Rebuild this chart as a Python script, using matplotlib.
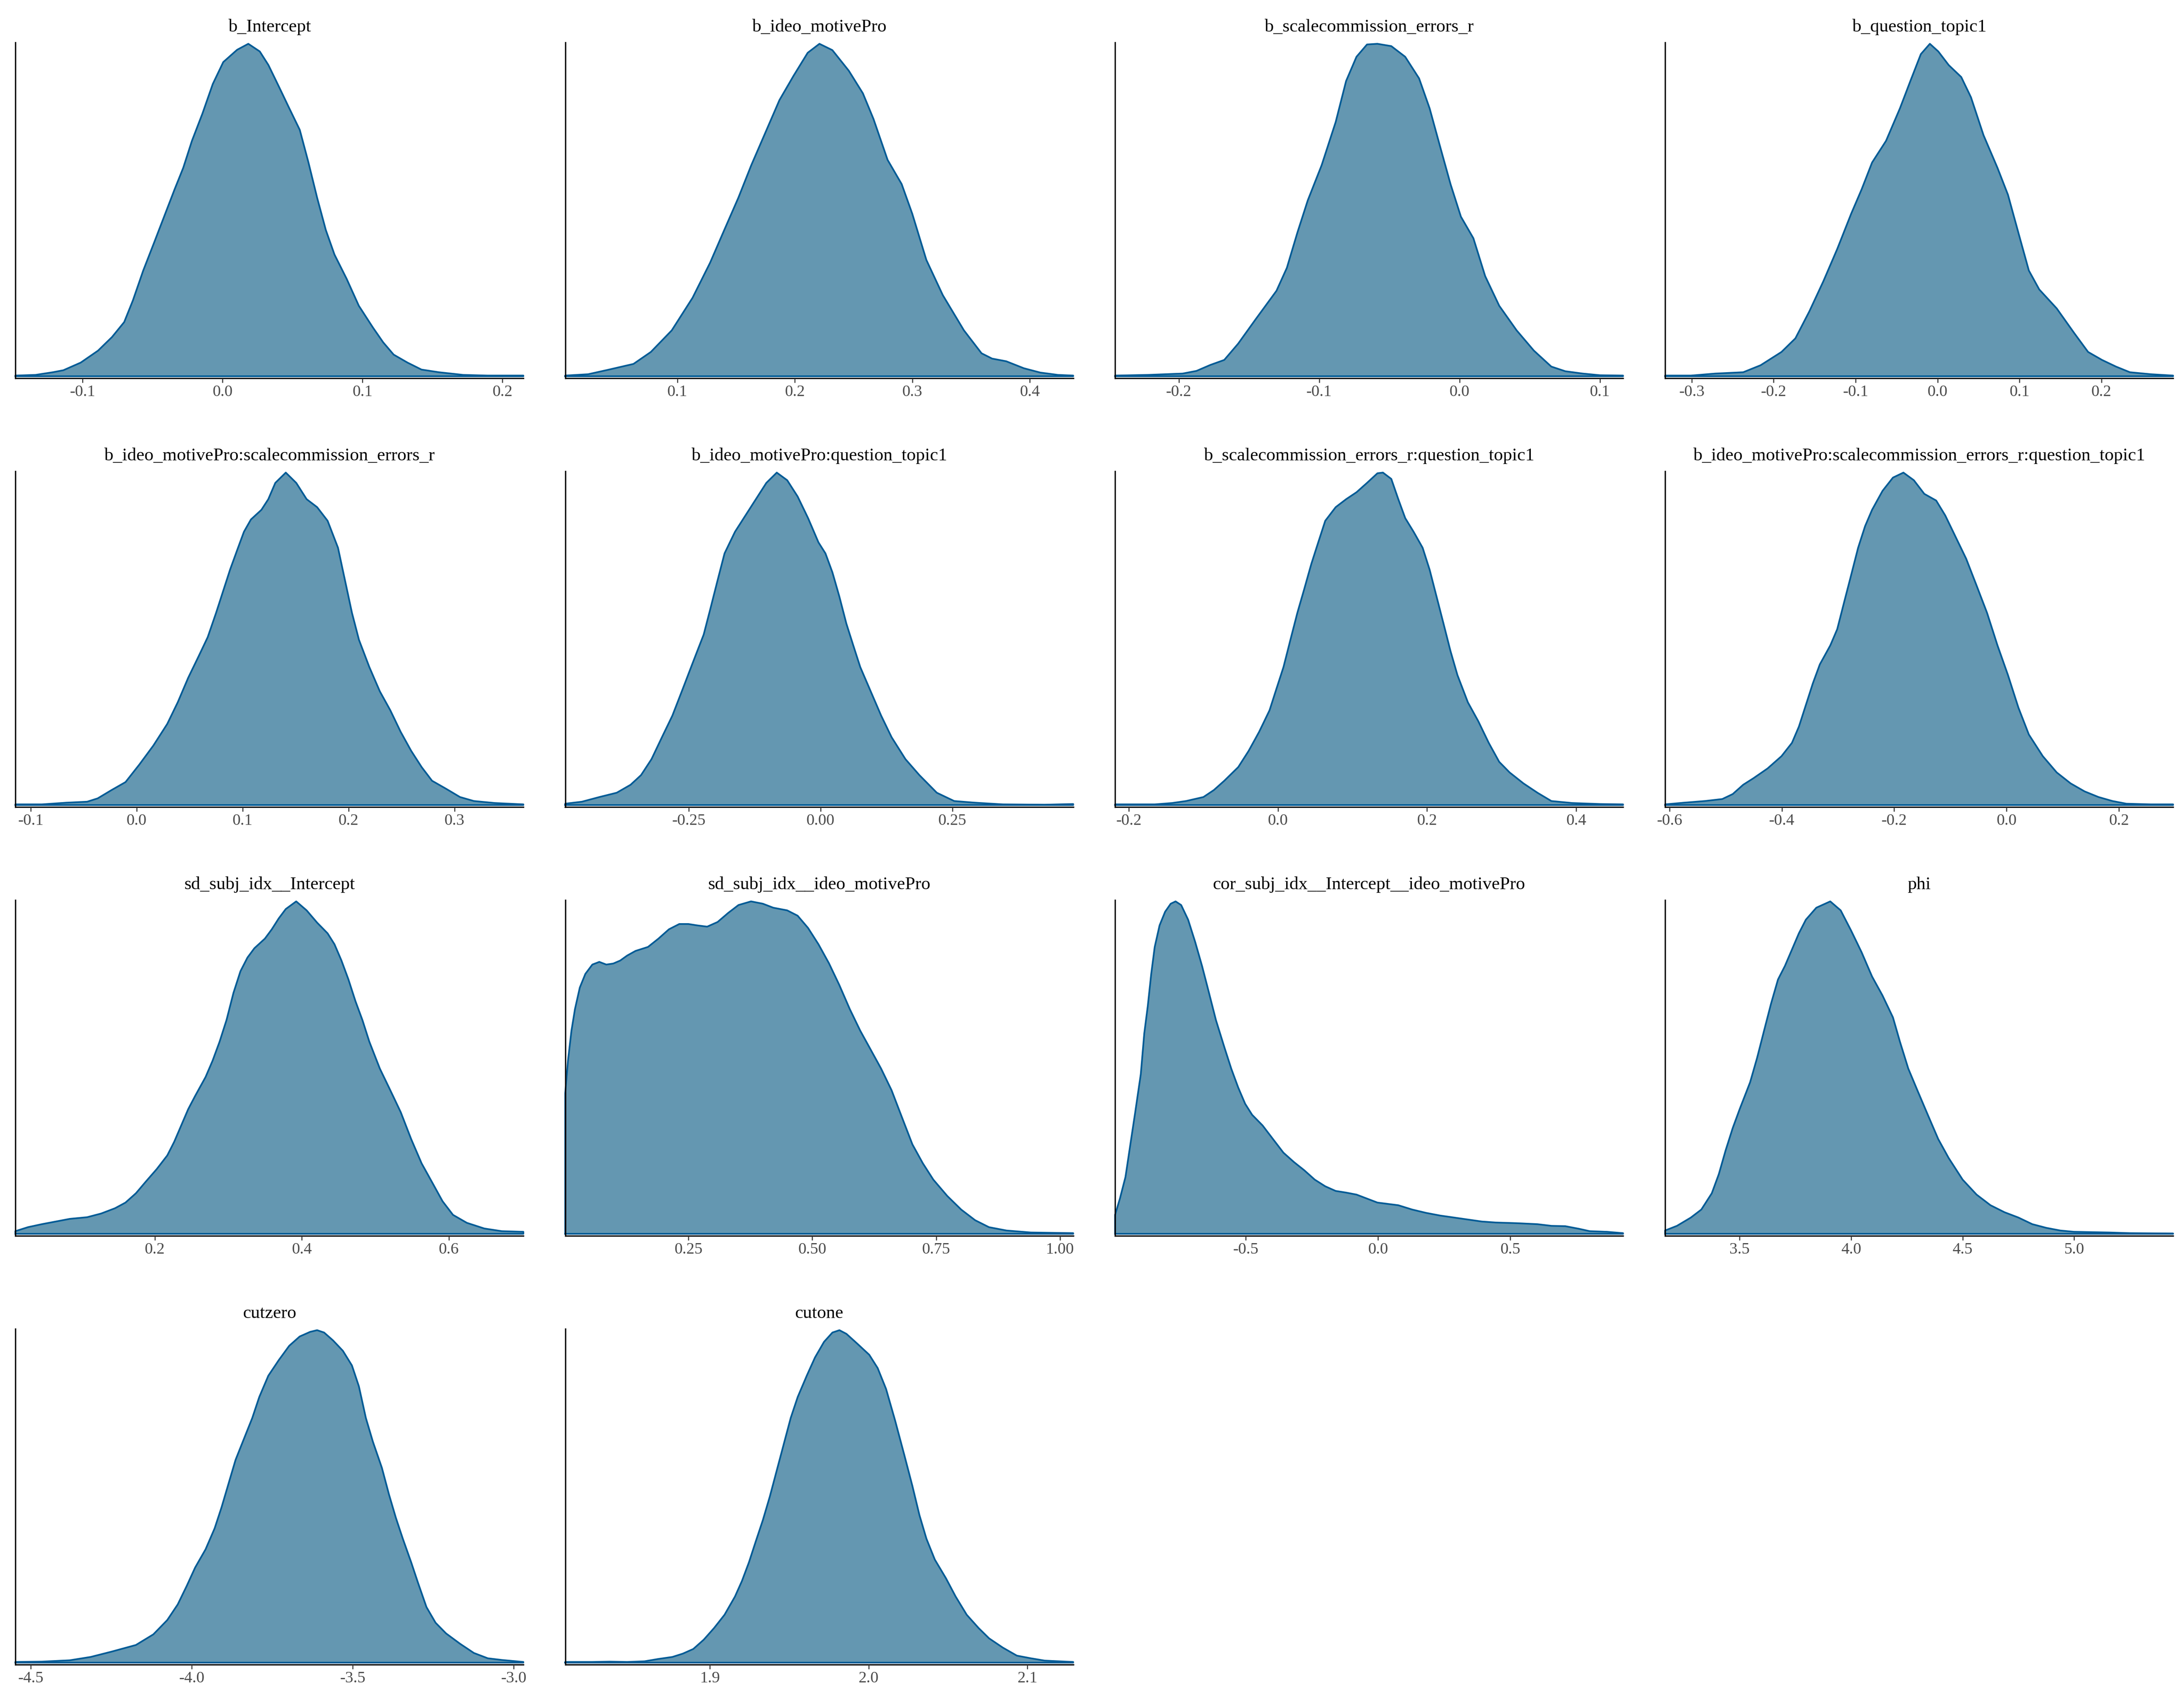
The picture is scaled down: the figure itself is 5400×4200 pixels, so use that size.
import matplotlib
matplotlib.use("Agg")
import matplotlib.pyplot as plt

plt.rcParams['font.family'] = ['Liberation Serif', 'DejaVu Serif']

# ---------------- data (y = relative density) ----------------
titles = ["b_Intercept", "b_ideo_motivePro", "b_scalecommission_errors_r", "b_question_topic1",
          "b_ideo_motivePro:scalecommission_errors_r", "b_ideo_motivePro:question_topic1",
          "b_scalecommission_errors_r:question_topic1",
          "b_ideo_motivePro:scalecommission_errors_r:question_topic1",
          "sd_subj_idx__Intercept", "sd_subj_idx__ideo_motivePro",
          "cor_subj_idx__Intercept__ideo_motivePro", "phi", "cutzero", "cutone"]

p01_x = [-0.1481, -0.1337, -0.1213, -0.1138, -0.1014, -0.0890, -0.0790, -0.0703, -0.0641, -0.0567,
         -0.0492, -0.0418, -0.0343, -0.0281, -0.0219, -0.0144, -0.0070, 0.0005, 0.0104, 0.0184,
         0.0266, 0.0328, 0.0403, 0.0477, 0.0552, 0.0614, 0.0676, 0.0738, 0.0800, 0.0887,
         0.0974, 0.1074, 0.1148, 0.1223, 0.1322, 0.1422, 0.1546, 0.1720, 0.1894, 0.2150]
p01_y = [0.002, 0.004, 0.012, 0.018, 0.041, 0.077, 0.118, 0.163, 0.228, 0.318,
         0.399, 0.480, 0.562, 0.627, 0.708, 0.790, 0.879, 0.945, 0.982, 1.0,
         0.977, 0.936, 0.871, 0.806, 0.741, 0.643, 0.537, 0.440, 0.366, 0.293,
         0.212, 0.147, 0.102, 0.065, 0.041, 0.020, 0.012, 0.004, 0.002, 0.002]

p02_x = [0.0046, 0.0241, 0.0419, 0.0627, 0.0775, 0.0953, 0.113, 0.128, 0.140, 0.152, 0.163,
         0.175, 0.187, 0.199, 0.211, 0.221, 0.232, 0.246, 0.258, 0.267, 0.279, 0.291, 0.300,
         0.312, 0.326, 0.344, 0.359, 0.368, 0.380, 0.395, 0.409, 0.424, 0.437]
p02_y = [0.002, 0.006, 0.020, 0.037, 0.073, 0.138, 0.236, 0.342, 0.440, 0.537, 0.635,
         0.733, 0.831, 0.904, 0.973, 1.0, 0.981, 0.919, 0.851, 0.774, 0.651, 0.578, 0.489,
         0.350, 0.244, 0.138, 0.069, 0.053, 0.045, 0.024, 0.011, 0.004, 0.002]

p03_x = [-0.2454, -0.2221, -0.1973, -0.1874, -0.1775, -0.1676, -0.1577, -0.1453, -0.1304, -0.1230,
         -0.1155, -0.1081, -0.0982, -0.0882, -0.0808, -0.0734, -0.0659, -0.0585, -0.0486, -0.0387,
         -0.0288, -0.0213, -0.0139, -0.0064, 0.0010, 0.0099, 0.0183, 0.0283, 0.0407, 0.0530,
         0.0654, 0.0754, 0.0878, 0.1001, 0.1165]
p03_y = [0.002, 0.004, 0.008, 0.016, 0.034, 0.049, 0.098, 0.171, 0.257, 0.326,
         0.432, 0.529, 0.635, 0.765, 0.888, 0.961, 0.998, 1.0, 0.993, 0.961,
         0.896, 0.806, 0.692, 0.578, 0.480, 0.415, 0.301, 0.212, 0.138, 0.077,
         0.029, 0.015, 0.008, 0.003, 0.002]

p04_x = [-0.3325, -0.3010, -0.2713, -0.2372, -0.2160, -0.1905, -0.1735, -0.1565, -0.1395, -0.1224,
         -0.1054, -0.0927, -0.0799, -0.0629, -0.0459, -0.0332, -0.0204, -0.0094, 0.0009, 0.0136,
         0.0289, 0.0408, 0.0561, 0.0731, 0.0859, 0.0986, 0.1114, 0.1241, 0.1454, 0.1667,
         0.1837, 0.2007, 0.2177, 0.2347, 0.2602, 0.2874]
p04_y = [0.002, 0.002, 0.008, 0.012, 0.033, 0.073, 0.114, 0.195, 0.285, 0.383,
         0.489, 0.562, 0.643, 0.708, 0.806, 0.888, 0.969, 1.0, 0.977, 0.936,
         0.900, 0.839, 0.725, 0.627, 0.546, 0.432, 0.318, 0.261, 0.204, 0.130,
         0.073, 0.049, 0.029, 0.012, 0.006, 0.002]

p05_x = [-0.1145, -0.0895, -0.0664, -0.0467, -0.0368, -0.0237, -0.0105, 0.0026, 0.0158, 0.0289,
         0.0388, 0.0487, 0.0586, 0.0671, 0.0750, 0.0816, 0.0882, 0.0947, 0.1013, 0.1079,
         0.1178, 0.1243, 0.1309, 0.1408, 0.1507, 0.1605, 0.1704, 0.1803, 0.1901, 0.1967,
         0.2033, 0.2099, 0.2197, 0.2296, 0.2395, 0.2493, 0.2592, 0.2691, 0.2789, 0.2921,
         0.3053, 0.3184, 0.3382, 0.3651]
p05_y = [0.002, 0.002, 0.007, 0.010, 0.020, 0.045, 0.069, 0.122, 0.179, 0.244,
         0.309, 0.383, 0.448, 0.505, 0.578, 0.643, 0.708, 0.765, 0.822, 0.859,
         0.888, 0.920, 0.969, 1.0, 0.969, 0.920, 0.896, 0.855, 0.774, 0.676,
         0.578, 0.497, 0.415, 0.342, 0.285, 0.220, 0.163, 0.114, 0.073, 0.049,
         0.024, 0.012, 0.006, 0.002]

p06_x = [-0.4842, -0.4525, -0.4195, -0.3865, -0.3602, -0.3404, -0.3206, -0.3008, -0.2810, -0.2612,
         -0.2414, -0.2216, -0.2084, -0.1953, -0.1821, -0.1623, -0.1425, -0.1227, -0.1029, -0.0831,
         -0.0633, -0.0435, -0.0237, -0.0040, 0.0092, 0.0224, 0.0356, 0.0488, 0.0620, 0.0752,
         0.0950, 0.1148, 0.1346, 0.1609, 0.1873, 0.2203, 0.2533, 0.2929, 0.3456, 0.4248, 0.4789]
p06_y = [0.004, 0.010, 0.024, 0.037, 0.061, 0.090, 0.138, 0.204, 0.269, 0.350,
         0.432, 0.513, 0.594, 0.676, 0.757, 0.822, 0.871, 0.920, 0.969, 1.0,
         0.977, 0.928, 0.863, 0.790, 0.757, 0.700, 0.627, 0.546, 0.480, 0.415,
         0.342, 0.269, 0.204, 0.138, 0.090, 0.037, 0.012, 0.007, 0.002, 0.001, 0.003]

p07_x = [-0.2184, -0.1652, -0.1419, -0.1232, -0.0999, -0.0859, -0.0719, -0.0532, -0.0392, -0.0252,
         -0.0112, -0.0019, 0.0075, 0.0168, 0.0261, 0.0355, 0.0448, 0.0541, 0.0635, 0.0775,
         0.0915, 0.1055, 0.1195, 0.1335, 0.1409, 0.1521, 0.1615, 0.1708, 0.1820, 0.1941,
         0.2035, 0.2128, 0.2221, 0.2314, 0.2408, 0.2548, 0.2688, 0.2828, 0.2968, 0.3108,
         0.3294, 0.3481, 0.3668, 0.3948, 0.4321, 0.4629]
p07_y = [0.002, 0.002, 0.006, 0.012, 0.024, 0.045, 0.073, 0.114, 0.163, 0.220,
         0.285, 0.350, 0.415, 0.497, 0.578, 0.651, 0.725, 0.790, 0.855, 0.896,
         0.920, 0.941, 0.969, 0.998, 1.0, 0.981, 0.920, 0.863, 0.822, 0.774,
         0.708, 0.627, 0.546, 0.464, 0.391, 0.309, 0.252, 0.187, 0.130, 0.098,
         0.065, 0.037, 0.012, 0.006, 0.003, 0.002]

p08_x = [-0.6078, -0.5743, -0.5371, -0.5060, -0.4874, -0.4688, -0.4502, -0.4254, -0.4006, -0.3820,
         -0.3696, -0.3572, -0.3448, -0.3324, -0.3138, -0.3014, -0.2890, -0.2766, -0.2642, -0.2518,
         -0.2394, -0.2208, -0.2022, -0.1836, -0.1650, -0.1464, -0.1253, -0.1091, -0.0905, -0.0719,
         -0.0533, -0.0347, -0.0161, 0.0025, 0.0211, 0.0397, 0.0645, 0.0893, 0.1141, 0.1389,
         0.1637, 0.1885, 0.2133, 0.2567, 0.2964]
p08_y = [0.002, 0.007, 0.012, 0.018, 0.033, 0.061, 0.081, 0.110, 0.147, 0.187,
         0.236, 0.301, 0.366, 0.423, 0.480, 0.529, 0.611, 0.692, 0.774, 0.839,
         0.888, 0.945, 0.985, 1.0, 0.977, 0.936, 0.916, 0.871, 0.806, 0.741,
         0.660, 0.578, 0.480, 0.391, 0.293, 0.212, 0.147, 0.098, 0.065, 0.041,
         0.024, 0.012, 0.004, 0.002, 0.002]

p09_x = [0.0104, 0.0275, 0.0464, 0.0654, 0.0844, 0.1081, 0.1270, 0.1460, 0.1602, 0.1744,
         0.1886, 0.2028, 0.2171, 0.2265, 0.2360, 0.2455, 0.2550, 0.2692, 0.2787, 0.2882,
         0.2976, 0.3071, 0.3166, 0.3261, 0.3355, 0.3498, 0.3592, 0.3687, 0.3782, 0.3924,
         0.4066, 0.4209, 0.4351, 0.4445, 0.4540, 0.4635, 0.4730, 0.4825, 0.4919, 0.5062,
         0.5204, 0.5346, 0.5488, 0.5630, 0.5773, 0.5915, 0.6057, 0.6246, 0.6483, 0.6720, 0.7014]
p09_y = [0.008, 0.020, 0.029, 0.037, 0.045, 0.050, 0.061, 0.077, 0.094, 0.122,
         0.159, 0.195, 0.236, 0.277, 0.326, 0.375, 0.415, 0.472, 0.521, 0.578,
         0.643, 0.725, 0.790, 0.831, 0.859, 0.888, 0.916, 0.949, 0.977, 1.0,
         0.973, 0.936, 0.904, 0.871, 0.822, 0.765, 0.700, 0.643, 0.578, 0.497,
         0.432, 0.366, 0.285, 0.212, 0.155, 0.098, 0.057, 0.033, 0.016, 0.008, 0.006]

p10_x = [0.0014, 0.0070, 0.0140, 0.0211, 0.0309, 0.0421, 0.0562, 0.0702, 0.0843, 0.0983,
         0.1124, 0.1264, 0.1433, 0.1685, 0.1896, 0.2107, 0.2317, 0.25, 0.2669, 0.2879,
         0.3090, 0.3301, 0.3511, 0.3764, 0.4003, 0.4213, 0.4494, 0.4705, 0.4916, 0.5126,
         0.5337, 0.5548, 0.5758, 0.5969, 0.6180, 0.6390, 0.6601, 0.6812, 0.7022, 0.7233,
         0.7444, 0.7725, 0.8006, 0.8287, 0.8567, 0.8919, 0.9410, 1.0267]
p10_y = [0.423, 0.521, 0.611, 0.676, 0.741, 0.782, 0.810, 0.818, 0.810, 0.813,
         0.822, 0.837, 0.851, 0.863, 0.888, 0.916, 0.932, 0.932, 0.928, 0.924,
         0.938, 0.965, 0.989, 1.0, 0.993, 0.981, 0.973, 0.957, 0.920, 0.871,
         0.814, 0.748, 0.676, 0.611, 0.554, 0.497, 0.432, 0.350, 0.269, 0.212,
         0.163, 0.114, 0.073, 0.041, 0.020, 0.010, 0.004, 0.002]

p11_x = [-0.9947, -0.9763, -0.9553, -0.9368, -0.9184, -0.8974, -0.8842, -0.8711, -0.8579, -0.8447,
         -0.8263, -0.8053, -0.7842, -0.7658, -0.7447, -0.7184, -0.6921, -0.6658, -0.6395, -0.6132,
         -0.5816, -0.5553, -0.5289, -0.5026, -0.4763, -0.4368, -0.3974, -0.3579, -0.3184, -0.2789,
         -0.2395, -0.2, -0.1605, -0.1211, -0.0816, -0.0421, -0.0026, 0.0368, 0.0763, 0.1289,
         0.1816, 0.2342, 0.2868, 0.3395, 0.3921, 0.4447, 0.5237, 0.6026, 0.6553, 0.7079,
         0.7605, 0.8, 0.8658, 0.9263]
p11_y = [0.057, 0.106, 0.171, 0.269, 0.366, 0.480, 0.603, 0.684, 0.782, 0.863,
         0.928, 0.969, 0.993, 1.0, 0.989, 0.945, 0.879, 0.806, 0.725, 0.643,
         0.562, 0.497, 0.440, 0.391, 0.358, 0.326, 0.285, 0.244, 0.216, 0.191,
         0.163, 0.143, 0.129, 0.124, 0.118, 0.106, 0.094, 0.090, 0.086, 0.073,
         0.063, 0.055, 0.049, 0.043, 0.037, 0.034, 0.032, 0.029, 0.024, 0.023,
         0.015, 0.008, 0.006, 0.002]

p12_x = [3.1656, 3.2188, 3.2813, 3.3281, 3.375, 3.4063, 3.4375, 3.4688, 3.5, 3.5469,
         3.5781, 3.6094, 3.6406, 3.6719, 3.7031, 3.7344, 3.7656, 3.7969, 3.8438, 3.9063,
         3.9531, 4.0, 4.0469, 4.0938, 4.1406, 4.1875, 4.2188, 4.2563, 4.2969, 4.3438,
         4.3906, 4.4375, 4.5, 4.5625, 4.625, 4.6875, 4.75, 4.8125, 4.875, 4.9375,
         5.0, 5.1563, 5.25, 5.4438]
p12_y = [0.010, 0.024, 0.049, 0.073, 0.122, 0.179, 0.252, 0.318, 0.375, 0.456,
         0.529, 0.611, 0.692, 0.765, 0.806, 0.855, 0.904, 0.945, 0.981, 1.0,
         0.973, 0.912, 0.847, 0.774, 0.717, 0.651, 0.578, 0.497, 0.432, 0.358,
         0.285, 0.228, 0.163, 0.118, 0.086, 0.065, 0.049, 0.029, 0.018, 0.010,
         0.006, 0.004, 0.002, 0.001]

p13_x = [-4.5476, -4.4654, -4.3788, -4.3139, -4.2489, -4.1732, -4.1190, -4.0758, -4.0433, -4.0152,
         -3.9892, -3.9567, -3.9286, -3.9069, -3.8853, -3.8636, -3.8377, -3.8117, -3.7900, -3.7619,
         -3.7294, -3.6970, -3.6645, -3.6320, -3.6104, -3.5887, -3.5606, -3.5303, -3.5022, -3.4805,
         -3.4589, -3.4372, -3.4091, -3.3874, -3.3658, -3.3442, -3.3182, -3.2965, -3.2706, -3.2424,
         -3.2100, -3.1667, -3.1234, -3.0801, -3.0368, -2.9697]
p13_y = [0.002, 0.003, 0.007, 0.017, 0.033, 0.053, 0.085, 0.128, 0.175, 0.231,
         0.286, 0.341, 0.404, 0.468, 0.539, 0.610, 0.673, 0.736, 0.799, 0.863,
         0.910, 0.953, 0.981, 0.995, 1.0, 0.993, 0.969, 0.938, 0.894, 0.831,
         0.736, 0.665, 0.586, 0.507, 0.436, 0.373, 0.302, 0.239, 0.167, 0.120,
         0.088, 0.057, 0.029, 0.013, 0.008, 0.002]

p14_x = [1.8088, 1.8259, 1.8368, 1.8478, 1.8588, 1.8675, 1.8763, 1.8829, 1.8895, 1.8961,
         1.9026, 1.9092, 1.9158, 1.9202, 1.9246, 1.9289, 1.9333, 1.9377, 1.9421, 1.9465,
         1.9509, 1.9553, 1.9610, 1.9662, 1.9719, 1.9772, 1.9816, 1.9860, 1.9925, 2.0004,
         2.0057, 2.0110, 2.0167, 2.0224, 2.0276, 2.0320, 2.0364, 2.0417, 2.0487, 2.0548,
         2.0618, 2.0693, 2.0759, 2.0846, 2.0934, 2.1022, 2.1110, 2.1289]
p14_y = [0.002, 0.002, 0.003, 0.002, 0.004, 0.011, 0.017, 0.027, 0.041, 0.069,
         0.104, 0.144, 0.199, 0.246, 0.302, 0.365, 0.428, 0.499, 0.578, 0.657,
         0.736, 0.799, 0.863, 0.918, 0.965, 0.993, 1.0, 0.989, 0.961, 0.926,
         0.886, 0.823, 0.728, 0.626, 0.531, 0.444, 0.373, 0.310, 0.254, 0.199,
         0.144, 0.104, 0.073, 0.045, 0.021, 0.013, 0.006, 0.002]

tick_values = [
    [-0.1, 0.0, 0.1, 0.2], [0.1, 0.2, 0.3, 0.4], [-0.2, -0.1, 0.0, 0.1],
    [-0.3, -0.2, -0.1, 0.0, 0.1, 0.2], [-0.1, 0.0, 0.1, 0.2, 0.3], [-0.25, 0.0, 0.25],
    [-0.2, 0.0, 0.2, 0.4], [-0.6, -0.4, -0.2, 0.0, 0.2], [0.2, 0.4, 0.6],
    [0.25, 0.50, 0.75, 1.00], [-0.5, 0.0, 0.5], [3.5, 4.0, 4.5, 5.0],
    [-4.5, -4.0, -3.5, -3.0], [1.9, 2.0, 2.1]]
tick_labels = [
    ["-0.1", "0.0", "0.1", "0.2"], ["0.1", "0.2", "0.3", "0.4"], ["-0.2", "-0.1", "0.0", "0.1"],
    ["-0.3", "-0.2", "-0.1", "0.0", "0.1", "0.2"], ["-0.1", "0.0", "0.1", "0.2", "0.3"],
    ["-0.25", "0.00", "0.25"], ["-0.2", "0.0", "0.2", "0.4"],
    ["-0.6", "-0.4", "-0.2", "0.0", "0.2"], ["0.2", "0.4", "0.6"],
    ["0.25", "0.50", "0.75", "1.00"], ["-0.5", "0.0", "0.5"], ["3.5", "4.0", "4.5", "5.0"],
    ["-4.5", "-4.0", "-3.5", "-3.0"], ["1.9", "2.0", "2.1"]]

xs = [p01_x, p02_x, p03_x, p04_x, p05_x, p06_x, p07_x, p08_x, p09_x, p10_x, p11_x, p12_x, p13_x, p14_x]
ys = [p01_y, p02_y, p03_y, p04_y, p05_y, p06_y, p07_y, p08_y, p09_y, p10_y, p11_y, p12_y, p13_y, p14_y]

# ---------------- styling ----------------
FILL = "#6497b1"
LINE = "#005b96"
W, H = 5400, 4200
fig = plt.figure(figsize=(18, 14), dpi=300)
fig.patch.set_facecolor("white")

pan_w, pan_h = 1256, 830
col_left = [38, 1397.5, 2757, 4117]
row_top = [105, 1165, 2225, 3285]

for k, (title, x, y) in enumerate(zip(titles, xs, ys)):
    r, c = divmod(k, 4)
    left = col_left[c] / W
    bottom = 1 - (row_top[r] + pan_h) / H
    ax = fig.add_axes([left, bottom, pan_w / W, pan_h / H])
    ax.fill_between(x, 0, y, color=FILL, linewidth=0, zorder=1)
    px = [x[0]] + list(x) + [x[-1], x[0]]
    py = [0] + list(y) + [0, 0]
    ax.plot(px, py, color=LINE, linewidth=1.0, solid_joinstyle="round", zorder=2, clip_on=False)
    ax.set_xlim(x[0], x[-1])
    ax.set_ylim(-0.006, 1.004)
    for s in ("top", "right"):
        ax.spines[s].set_visible(False)
    for s in ("left", "bottom"):
        ax.spines[s].set_color("black")
        ax.spines[s].set_linewidth(0.8)
    ax.spines["bottom"].set_zorder(0.5)
    ax.set_yticks([])
    ax.set_xticks(tick_values[k])
    ax.set_xticklabels(tick_labels[k])
    ax.tick_params(axis="x", direction="out", length=2.75, width=0.6, color="#333333",
                   labelsize=9.6, labelcolor="#4D4D4D", pad=1.2)
    ax.text(0.5, 1 + 38 / pan_h, title, transform=ax.transAxes, ha="center", va="center",
            fontsize=10.8, color="black")

fig.savefig("out.png", dpi=300, facecolor="white")
